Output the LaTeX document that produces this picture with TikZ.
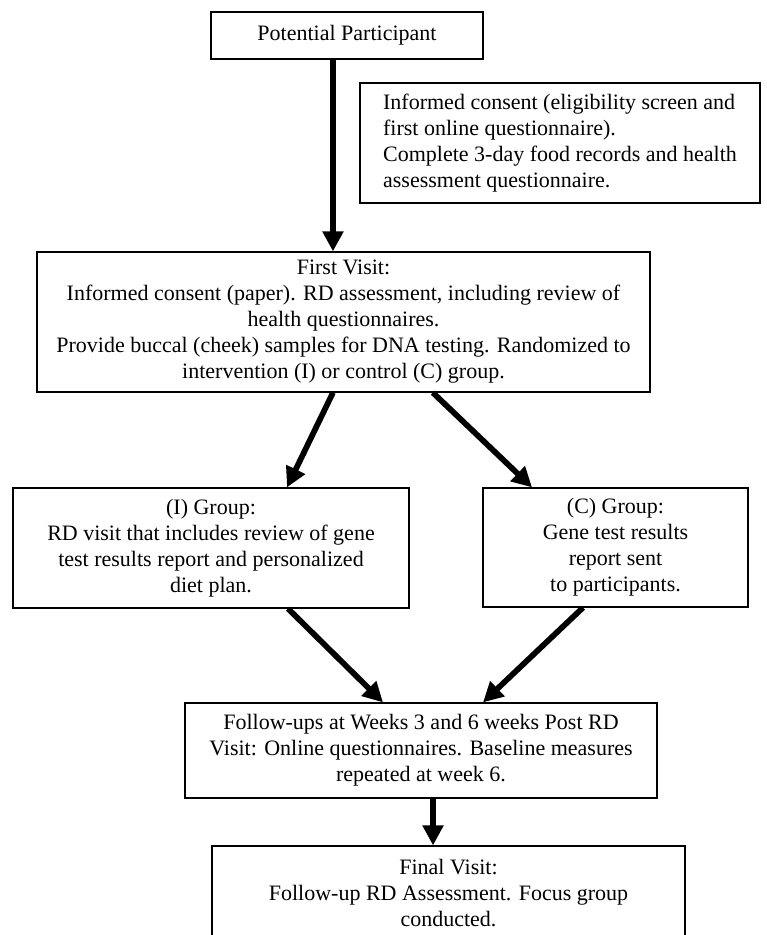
\documentclass[tikz,border=0pt]{standalone}
\usepackage{fontspec}
\setmainfont{Liberation Serif}
\usetikzlibrary{arrows.meta}
\begin{document}
\begin{tikzpicture}[x=0.75pt, y=-0.75pt,
  box/.style={rectangle, draw, line width=0.9pt, inner sep=0pt,
              font=\fontsize{16.5}{19.5}\selectfont, align=center},
  notebox/.style={box, align=left},
  arrow/.style={-{Triangle[length=15pt,width=15pt]}, line width=4.3pt}
]
  \useasboundingbox (0,0) rectangle (767,935);

  \node[box, minimum width=204pt, minimum height=35.25pt] (pp) at (347,35.5) {Potential Participant};
  \node[notebox, minimum width=300pt, minimum height=90pt] (consent) at (560,143)
    {Informed consent (eligibility screen and\\first online questionnaire).\\Complete 3-day food records and health\\assessment questionnaire.};

  \node[box, minimum width=459.75pt, minimum height=105pt] (first) at (343.5,322)
    {First Visit:\\Informed consent (paper). RD assessment, including review of\\health questionnaires.\\Provide buccal (cheek) samples for DNA testing. Randomized to\\intervention (I) or control (C) group.};

  \node[box, minimum width=297pt, minimum height=90pt] (igroup) at (211,548)
    {(I) Group:\\RD visit that includes review of gene\\test results report and personalized\\diet plan.};
  \node[box, minimum width=198.75pt, minimum height=89.25pt] (cgroup) at (615.5,547.5)
    {(C) Group:\\Gene test results\\report sent\\to participants.};

  \node[box, minimum width=354pt, minimum height=71.25pt] (follow) at (421,750.5)
    {Follow-ups at Weeks 3 and 6 weeks Post RD\\Visit: Online questionnaires. Baseline measures\\repeated at week 6.};
  \node[box, minimum width=354.75pt, minimum height=70.5pt] (final) at (448.5,893)
    {Final Visit:\\Follow-up RD Assessment. Focus group\\conducted.};

  \draw[arrow] ([xshift=-10.5pt]pp.south) -- ([xshift=-7.9pt]first.north);
  \draw[arrow] ([xshift=-7.9pt]first.south) -- ([xshift=57pt]igroup.north);
  \draw[arrow] ([xshift=67pt]first.south) -- ([xshift=-62.6pt]cgroup.north);
  \draw[arrow] ([xshift=57.75pt]igroup.south) -- ([xshift=-28.5pt]follow.north);
  \draw[arrow] ([xshift=-24.4pt]cgroup.south) -- ([xshift=46.5pt]follow.north);
  \draw[arrow] ([xshift=9pt]follow.south) -- ([xshift=-11.6pt]final.north);

\end{tikzpicture}
\end{document}
